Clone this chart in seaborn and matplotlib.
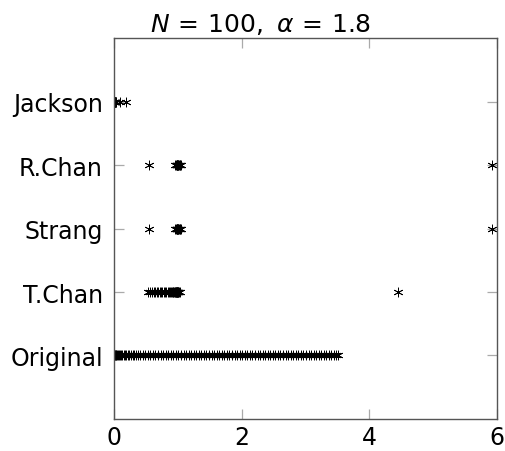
import matplotlib
matplotlib.use("Agg")
import matplotlib.pyplot as plt
import seaborn as sns
import pandas as pd

categories = ["Original", "T.Chan", "Strang", "R.Chan", "Jackson"]

original = [0.003, 0.008, 0.015, 0.024, 0.035, 0.048, 0.062, 0.078, 0.095, 0.113,
            0.132, 0.152, 0.173, 0.195, 0.218, 0.242, 0.266, 0.291, 0.317, 0.343,
            0.37, 0.41, 0.45, 0.49, 0.53, 0.57, 0.61, 0.65, 0.69, 0.73,
            0.77, 0.81, 0.85, 0.89, 0.93, 0.97, 1.01, 1.05, 1.09, 1.13,
            1.17, 1.21, 1.25, 1.29, 1.33, 1.37, 1.41, 1.45, 1.49, 1.53,
            1.57, 1.61, 1.65, 1.69, 1.73, 1.77, 1.81, 1.85, 1.89, 1.93,
            1.97, 2.01, 2.05, 2.09, 2.13, 2.17, 2.21, 2.25, 2.29, 2.33,
            2.37, 2.41, 2.45, 2.49, 2.53, 2.57, 2.61, 2.65, 2.69, 2.73,
            2.77, 2.81, 2.85, 2.89, 2.93, 2.97, 3.01, 3.05, 3.09, 3.13,
            3.17, 3.21, 3.25, 3.29, 3.33, 3.37, 3.41, 3.45, 3.48, 3.51]

tchan = [0.53, 0.56, 0.59, 0.62, 0.645, 0.67, 0.695, 0.72, 0.74, 0.76,
         0.78, 0.80, 0.82, 0.84, 0.86, 0.875, 0.89, 0.905, 0.92, 0.93,
         0.94, 0.95, 0.96, 0.965, 0.97, 0.975, 0.98, 0.985, 0.99, 0.995,
         1.0, 1.005, 1.01, 1.02, 1.03, 4.45]

strang = [0.556, 0.96, 0.97, 0.98, 0.985, 0.99, 0.995, 1.0, 1.005, 1.01,
          1.02, 1.03, 1.04, 1.05, 5.93]

rchan = [0.556, 0.96, 0.97, 0.98, 0.985, 0.99, 0.995, 1.0, 1.005, 1.01,
         1.02, 1.03, 1.04, 1.05, 5.93]

jackson = [0.001, 0.002, 0.004, 0.006, 0.008, 0.01, 0.013, 0.016, 0.02, 0.025,
           0.03, 0.09, 0.19]

series = {"Original": original, "T.Chan": tchan, "Strang": strang,
          "R.Chan": rchan, "Jackson": jackson}

rows = []
for i, name in enumerate(categories):
    for v in series[name]:
        rows.append({"value": v, "pos": i + 1, "method": name})
df = pd.DataFrame(rows)

sns.set_theme(style="white")
plt.rcParams["font.family"] = ["DejaVu Sans"]
plt.rcParams["mathtext.fontset"] = "dejavusans"

fig = plt.figure(figsize=(5.06, 4.52), dpi=100)
ax = fig.add_axes([0.2253, 0.0708, 0.7563, 0.8429])

sns.scatterplot(data=df, x="value", y="pos", ax=ax, color="black",
                marker=(6, 2, 0), s=42, linewidth=0.6, legend=False)

ax.set_xlim(0, 6)
ax.set_ylim(0, 6)
ax.set_xticks([0, 2, 4, 6])
ax.set_xticklabels(["0", "2", "4", "6"])
ax.set_yticks(range(1, len(categories) + 1))
ax.set_yticklabels(categories)
ax.set_xlabel("")
ax.set_ylabel("")

for sp in ax.spines.values():
    sp.set_visible(True)
    sp.set_color("#555555")
    sp.set_linewidth(1.0)

ax.tick_params(axis="both", which="major", direction="in", length=7,
               width=0.9, color="#aaaaaa", labelsize=17,
               top=True, right=True, bottom=True, left=True,
               labelcolor="black")
ax.tick_params(axis="x", pad=4)
ax.tick_params(axis="y", pad=8)

ax.set_title(r"$N\,=\,100,\ \alpha\,=\,1.8$", fontsize=18, pad=5,
             color="black", x=0.384)

fig.savefig("out.png", dpi=100)
